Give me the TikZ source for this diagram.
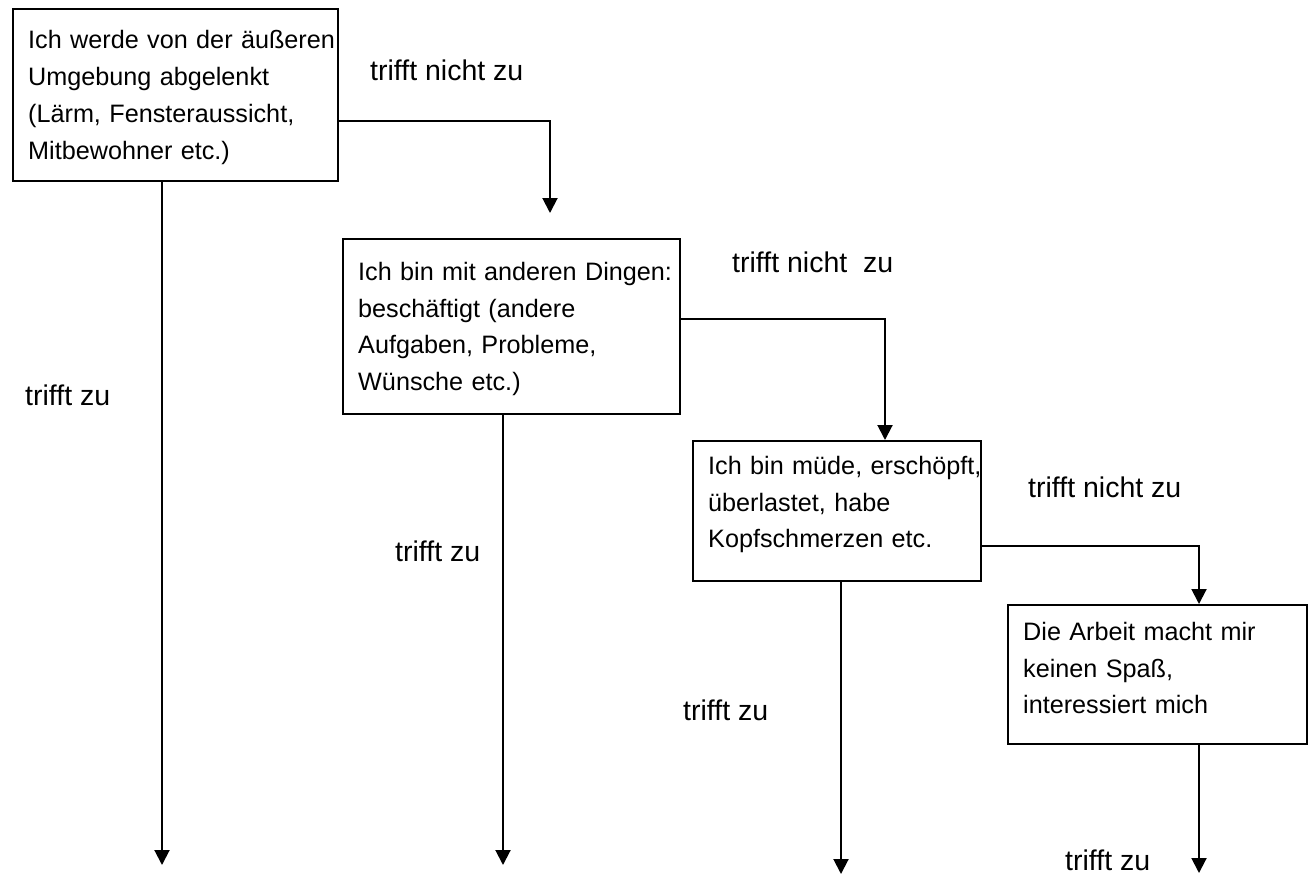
\documentclass[tikz,border=0pt]{standalone}
\usepackage{fontspec}
\setmainfont{Liberation Sans}
\usetikzlibrary{arrows.meta}
\begin{document}
\begin{tikzpicture}[x=1pt,y=1pt,
  box/.style={draw, line width=1.8pt, inner sep=0pt, anchor=north west},
  txt/.style={inner sep=0pt, anchor=north west, align=left, text width=330pt,
              font=\fontsize{25.2}{36.8}\selectfont},
  lab/.style={inner sep=0pt, anchor=base west, font=\fontsize{28.5}{34}\selectfont},
  arr/.style={line width=2pt, -{Triangle[width=15pt,length=15pt]}}]
\useasboundingbox (0,0) rectangle (1311,-875);
\newcommand\fl{\rule{0pt}{20pt}}

% boxes
\node[box, minimum width=325pt, minimum height=172pt] (b1) at (12,-8) {};
\node[box, minimum width=337pt, minimum height=175pt] (b2) at (342,-238) {};
\node[box, minimum width=288pt, minimum height=140pt] (b3) at (692,-440) {};
\node[box, minimum width=299pt, minimum height=139pt] (b4) at (1007,-604) {};

% box texts
\node[txt] (t1) at (28,-28.5) {\fl Ich werde von der äußeren\\Umgebung abgelenkt\\(Lärm, Fensteraussicht,\\Mitbewohner etc.)};
\node[txt] (t2) at (358,-260) {\fl Ich bin mit anderen Dingen:\\beschäftigt (andere\\Aufgaben, Probleme,\\Wünsche etc.)};
\node[txt] (t3) at (708,-454) {\fl Ich bin müde, erschöpft,\\überlastet, habe\\Kopfschmerzen etc.};
\node[txt] (t4) at (1023,-620) {\fl Die Arbeit macht mir\\keinen Spaß,\\interessiert mich};

% labels
\node[lab] (l1) at (370,-81) {trifft nicht zu};
\node[lab] (l2) at (732,-272) {trifft nicht\ \ zu};
\node[lab] (l3) at (1028,-497) {trifft nicht zu};
\node[lab] (l4) at (25,-405) {trifft zu};
\node[lab] (l5) at (395,-561) {trifft zu};
\node[lab] (l6) at (683,-720) {trifft zu};
\node[lab] (l7) at (1065,-870) {trifft zu};

% "trifft nicht zu" connectors
\coordinate (k1) at (550,-121);
\coordinate (e1) at (550,-213);
\draw[arr] (b1.east |- k1) -- (k1) -- (e1);
\coordinate (k2) at (885,-319);
\draw[arr] (b2.east |- k2) -- (k2) -- (k2 |- b3.north);
\coordinate (k3) at (1199,-546);
\draw[arr] (b3.east |- k3) -- (k3) -- (k3 |- b4.north);

% "trifft zu" connectors
\coordinate (d1) at (162,-865);
\coordinate (d2) at (503,-865);
\coordinate (d3) at (841,-874);
\coordinate (d4) at (1199,-873);
\draw[arr] (d1 |- b1.south) -- (d1);
\draw[arr] (d2 |- b2.south) -- (d2);
\draw[arr] (d3 |- b3.south) -- (d3);
\draw[arr] (d4 |- b4.south) -- (d4);
\end{tikzpicture}
\end{document}
